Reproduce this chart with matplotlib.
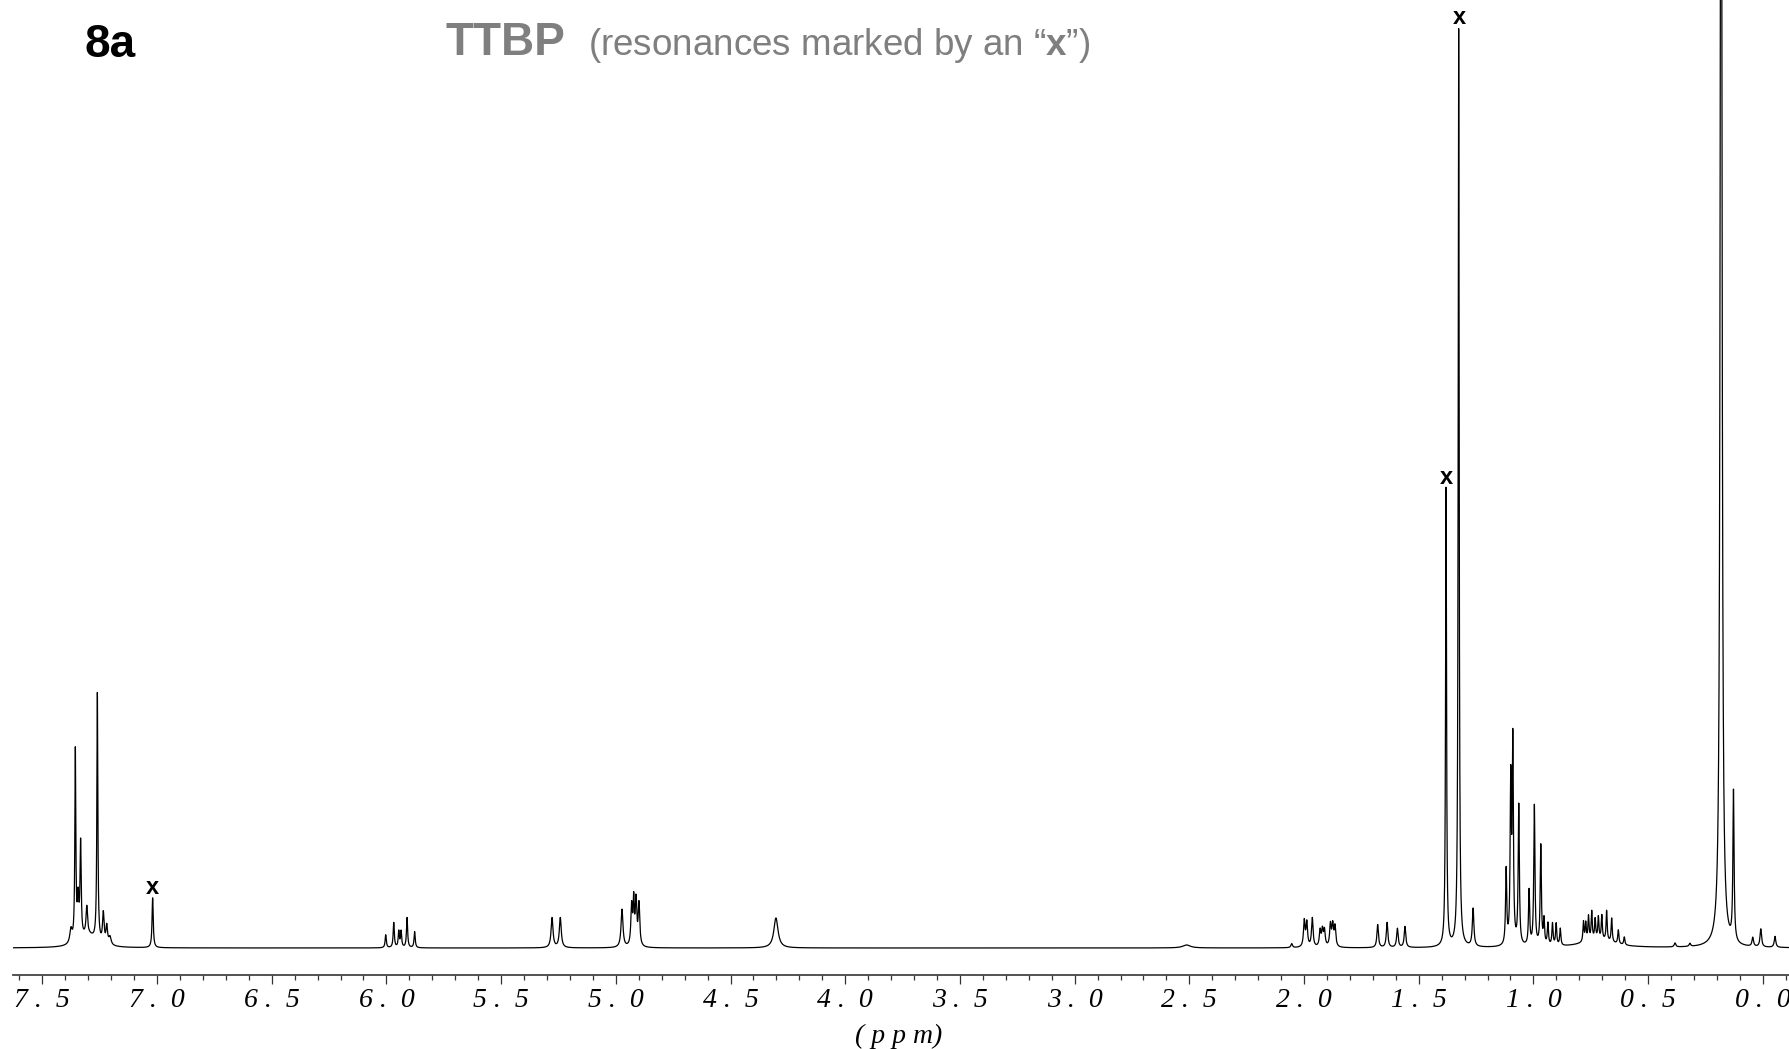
# -*- coding: utf-8 -*-
"""1H NMR spectrum plot (8a, TTBP resonances marked by an x)
"""

import numpy as np
import matplotlib.pyplot as plt
from matplotlib.ticker import FixedLocator, MultipleLocator

plt.rcParams['font.family'] = ['Liberation Sans', 'DejaVu Sans']
plt.rcParams['mathtext.fontset'] = 'custom'
plt.rcParams['mathtext.rm'] = 'Liberation Sans'
plt.rcParams['mathtext.bf'] = 'Liberation Sans:bold'

# peak table (shift in ppm, height, half width in ppm)
peak_ppm = [
    7.375, 7.356, 7.344, 7.333, 7.306, 7.260, 7.234, 7.219, 7.205, 7.30, 7.019,
    6.003, 5.968, 5.946, 5.936, 5.910, 5.877,
    5.278, 5.242,
    4.973, 4.931, 4.922, 4.912, 4.899,
    4.302, 2.512,
    2.054, 1.999, 1.988, 1.964, 1.930, 1.920, 1.911, 1.885, 1.875, 1.865,
    1.679, 1.638, 1.593, 1.560,
    1.381, 1.326, 1.263,
    1.119, 1.099, 1.090, 1.064, 1.019, 0.996, 0.968,
    0.954, 0.937, 0.917, 0.901, 0.883,
    0.782, 0.772, 0.760, 0.746, 0.731, 0.717, 0.702, 0.681, 0.659, 0.630, 0.604, 0.72,
    0.383, 0.318, 0.182, 0.128, 0.044, 0.009, -0.053,
]
peak_height = [
    14, 190, 40, 95, 28, 248, 30, 18, 8, 12, 50,
    13, 25, 16, 16, 30, 16,
    30, 30,
    38, 40, 42, 45, 42,
    30, 3,
    4, 26, 24, 29, 16, 16, 16, 22, 21, 20,
    23, 25, 19, 21,
    460, 920, 38,
    75, 160, 200, 140, 55, 140, 100,
    25, 22, 22, 22, 17,
    20, 18, 24, 28, 20, 22, 24, 30, 24, 14, 8, 8,
    4, 3, 1600, 150, 9, 18, 11,
]
peak_width = [
    0.006, 0.0025, 0.004, 0.003, 0.004, 0.0025, 0.004, 0.004, 0.006, 0.04, 0.003,
    0.003, 0.003, 0.003, 0.003, 0.003, 0.003,
    0.005, 0.005,
    0.005, 0.004, 0.003, 0.004, 0.004,
    0.011, 0.02,
    0.004, 0.004, 0.004, 0.004, 0.004, 0.004, 0.004, 0.004, 0.004, 0.004,
    0.004, 0.004, 0.004, 0.004,
    0.0025, 0.0025, 0.004,
    0.003, 0.003, 0.003, 0.003, 0.003, 0.003, 0.003,
    0.003, 0.003, 0.003, 0.003, 0.003,
    0.0028, 0.0028, 0.0028, 0.0028, 0.0028, 0.0028, 0.0028, 0.0028, 0.0028, 0.003, 0.003, 0.08,
    0.004, 0.004, 0.004, 0.003, 0.004, 0.004, 0.004,
]

# TTBP resonances
marked_ppm = [7.019, 1.381, 1.322]
marked_height = [50, 460, 920]

major_ticks = [7.5, 7.0, 6.5, 6.0, 5.5, 5.0, 4.5, 4.0, 3.5, 3.0, 2.5, 2.0, 1.5, 1.0, 0.5, 0.0]
tick_labels = ['7 .  5', '7 .  0', '6 .  5', '6 .  0', '5 .  5', '5 .  0', '4 .  5', '4 .  0',
               '3 .  5', '3 .  0', '2 .  5', '2 .  0', '1 .  5', '1 .  0', '0 .  5', '0 .  0']

ppm_left = 7.629
ppm_right = -0.114

W, H = 1789, 1049
fig = plt.figure(figsize=(W / 100, H / 100), dpi=100)
ax = fig.add_axes([12.7 / W, (H - 975) / H, 1 - 12.7 / W, 975 / H])

# スペクトル (ローレンツ線形の和)
x = np.linspace(ppm_left, ppm_right, 20000)
y = np.zeros_like(x)
for p, h, g in zip(peak_ppm, peak_height, peak_width):
    y += h * g ** 2 / ((x - p) ** 2 + g ** 2)

ax.plot(x, y, color='black', lw=0.9)

for p, h in zip(marked_ppm, marked_height):
    ax.annotate('x', xy=(p, h), xytext=(0, -1), textcoords='offset points',
                ha='center', va='bottom', fontsize=17, fontweight='bold', color='black')

ax.set_xlim(ppm_left, ppm_right)
ax.set_ylim(-27, 948)

for s in ['top', 'left', 'right']:
    ax.spines[s].set_visible(False)
ax.spines['bottom'].set_color('#444444')
ax.spines['bottom'].set_linewidth(1.3)
ax.set_yticks([])

ax.xaxis.set_major_locator(FixedLocator(major_ticks))
ax.xaxis.set_minor_locator(MultipleLocator(0.1))
ax.set_xticklabels(tick_labels, family=['Liberation Serif'], style='italic', fontsize=20)
ax.tick_params(axis='x', which='major', length=6.5, width=0.9, color='#333333', pad=3)
ax.tick_params(axis='x', which='minor', length=3.6, width=0.9, color='#333333')

fig.text(899 / W, 1 - 1036 / H, '( p p m)', ha='center', va='center',
         family=['Liberation Serif'], style='italic', fontsize=20)

# タイトル
fig.text(85 / W, 1 - 57 / H, '8a', ha='left', va='baseline', fontsize=33,
         fontweight='bold', color='black')
fig.text(445 / W, 1 - 55 / H, 'TTBP', ha='left', va='baseline', fontsize=33,
         fontweight='bold', color='#7f7f7f')
fig.text(588 / W, 1 - 55 / H, '(resonances marked by an \u201c$\\mathbf{x}$\u201d)',
         ha='left', va='baseline', fontsize=26.5, color='#7f7f7f')

fig.savefig('out.png', dpi=100)
